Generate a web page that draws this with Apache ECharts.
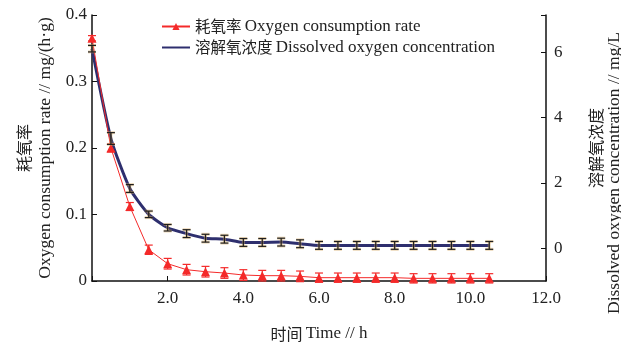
<!DOCTYPE html>
<html>
<head>
<meta charset="utf-8">
<script src="https://cdn.jsdelivr.net/npm/echarts@6/dist/echarts.min.js"></script>
<style>
html, body { margin: 0; padding: 0; background: #fff; }
#main { width: 621px; height: 346px; }
</style>
</head>
<body>
<div id="main"></div>
<script>
// time points (h)
var times = [0, 0.5, 1, 1.5, 2, 2.5, 3, 3.5, 4, 4.5, 5, 5.5, 6, 6.5, 7, 7.5, 8, 8.5, 9, 9.5, 10, 10.5];
// 耗氧率 mg/(h·g)
var rate = [0.365, 0.200, 0.112, 0.047, 0.026, 0.017, 0.014, 0.012, 0.009, 0.008, 0.008, 0.007,
            0.005, 0.005, 0.005, 0.005, 0.005, 0.004, 0.004, 0.004, 0.004, 0.004];
var rateErr = [0.004, 0.006, 0.006, 0.007, 0.008, 0.008, 0.008, 0.008, 0.008, 0.008, 0.008, 0.008,
               0.007, 0.007, 0.007, 0.007, 0.007, 0.007, 0.007, 0.007, 0.007, 0.007];
// 溶解氧浓度 mg/L
var oxygen = [6.11, 3.36, 1.83, 1.04, 0.63, 0.45, 0.31, 0.28, 0.18, 0.18, 0.19, 0.14,
              0.09, 0.09, 0.09, 0.09, 0.09, 0.09, 0.09, 0.09, 0.09, 0.09];
var oxygenErr = [0.10, 0.18, 0.12, 0.10, 0.10, 0.12, 0.12, 0.12, 0.12, 0.12, 0.12, 0.12,
                 0.12, 0.12, 0.12, 0.12, 0.12, 0.12, 0.12, 0.12, 0.12, 0.12];
var rightLabels = [0, 2, 4, 6];

var serif = '"Liberation Serif", "DejaVu Serif", serif';
var cjk = '"Noto Sans CJK SC", sans-serif';

function pairs(ys) {
    return times.map(function (t, i) { return [t, ys[i]]; });
}
function errData(ys, es) {
    return times.map(function (t, i) { return [t, ys[i] - es[i], ys[i] + es[i]]; });
}
function errItem(color, under) {
    return function (params, api) {
        var lo = api.coord([api.value(0), api.value(1)]);
        var hi = api.coord([api.value(0), api.value(2)]);
        var w = 4;
        var kids = [];
        var st = { stroke: color, lineWidth: 1.2 };
        if (under) {
            var u = { stroke: under, lineWidth: 3 };
            kids.push({ type: 'line', shape: { x1: lo[0], y1: lo[1], x2: hi[0], y2: hi[1] }, style: u });
            kids.push({ type: 'line', shape: { x1: lo[0] - w, y1: lo[1], x2: lo[0] + w, y2: lo[1] }, style: u });
            kids.push({ type: 'line', shape: { x1: hi[0] - w, y1: hi[1], x2: hi[0] + w, y2: hi[1] }, style: u });
        }
        kids.push({ type: 'line', shape: { x1: lo[0], y1: lo[1], x2: hi[0], y2: hi[1] }, style: st });
        kids.push({ type: 'line', shape: { x1: lo[0] - w, y1: lo[1], x2: lo[0] + w, y2: lo[1] }, style: st });
        kids.push({ type: 'line', shape: { x1: hi[0] - w, y1: hi[1], x2: hi[0] + w, y2: hi[1] }, style: st });
        return { type: 'group', children: kids };
    };
}

var chart = echarts.init(document.getElementById('main'));
var option = {
    animation: false,
    grid: { left: 92, right: 75, top: 15, bottom: 65, containLabel: false, outerBoundsMode: 'none' },
    legend: {
        orient: 'vertical',
        left: 156,
        top: 13,
        itemWidth: 28,
        itemHeight: 9,
        itemGap: 4,
        data: [
            { name: '耗氧率 Oxygen consumption rate' },
            { name: '溶解氧浓度 Dissolved oxygen concentration', itemStyle: { opacity: 0 } }
        ],
        formatter: function (name) {
            var k = name.indexOf(' ');
            return '{cn|' + name.slice(0, k) + '} {en|' + name.slice(k + 1) + '}';
        },
        textStyle: {
            rich: {
                cn: { fontFamily: cjk, fontSize: 15.5, color: '#222' },
                en: { fontFamily: serif, fontSize: 17, color: '#222' }
            }
        }
    },
    xAxis: {
        type: 'value',
        min: 0,
        max: 12,
        interval: 2,
        name: '{cn|时间} {en|Time // h}',
        nameLocation: 'middle',
        nameGap: 44,
        nameTextStyle: { rich: { cn: { fontFamily: cjk, fontSize: 16, color: '#222' }, en: { fontFamily: serif, fontSize: 17, color: '#222' } } },
        splitLine: { show: false },
        axisLine: { lineStyle: { color: '#111', width: 1.5 } },
        axisTick: { inside: true, length: 5, lineStyle: { color: '#111' } },
        axisLabel: {
            margin: 9,
            fontFamily: serif,
            fontSize: 17,
            color: '#222',
            formatter: function (v) { return v === 0 ? '' : v.toFixed(1); }
        }
    },
    yAxis: [{
        type: 'value',
        min: 0,
        max: 0.4,
        interval: 0.1,
        name: '{cn|耗氧率}\n{en|Oxygen consumption rate // mg/(h·g)}',
        nameLocation: 'middle',
        nameRotate: 90,
        nameGap: 34,
        nameTextStyle: { rich: { cn: { fontFamily: cjk, fontSize: 16, color: '#222', lineHeight: 22 }, en: { fontFamily: serif, fontSize: 17.5, color: '#222', lineHeight: 22 } } },
        splitLine: { show: false },
        axisLine: { show: true, lineStyle: { color: '#111', width: 1.5 } },
        axisTick: { show: true, inside: true, length: 5, lineStyle: { color: '#111' } },
        axisLabel: { margin: 5, fontFamily: serif, fontSize: 17, color: '#222' }
    }, {
        type: 'value',
        min: -1,
        max: 7.14,
        position: 'right',
        name: '{cn|溶解氧浓度}\n{en|Dissolved oxygen concentration // mg/L}',
        nameLocation: 'middle',
        nameRotate: 90,
        nameGap: 40,
        nameTextStyle: { rich: { cn: { fontFamily: cjk, fontSize: 16, color: '#222', lineHeight: 19 }, en: { fontFamily: serif, fontSize: 17.5, color: '#222', lineHeight: 19, padding: [0, 50, 0, 0] } } },
        splitLine: { show: false },
        axisLine: { show: true, lineStyle: { color: '#111', width: 1.5 } },
        axisTick: { show: true, inside: true, length: 5, customValues: rightLabels.concat([7.14]), lineStyle: { color: '#111' } },
        axisLabel: { margin: 8, fontFamily: serif, fontSize: 17, color: '#222', customValues: rightLabels }
    }],
    series: [{
        name: '耗氧率 Oxygen consumption rate',
        type: 'line',
        yAxisIndex: 0,
        data: pairs(rate),
        symbol: 'triangle',
        symbolSize: 9,
        itemStyle: { color: '#f42a2a' },
        lineStyle: { color: '#f42a2a', width: 1 },
        z: 3
    }, {
        name: '溶解氧浓度 Dissolved oxygen concentration',
        type: 'line',
        yAxisIndex: 1,
        data: pairs(oxygen),
        symbol: 'circle',
        showSymbol: false,
        smooth: 0.2,
        itemStyle: { color: '#2e2f6e' },
        lineStyle: { color: '#2e2f6e', width: 3 },
        z: 2
    }, {
        type: 'custom',
        yAxisIndex: 0,
        data: errData(rate, rateErr),
        renderItem: errItem('#f42a2a'),
        encode: { x: 0, y: [1, 2] },
        z: 4,
        silent: true
    }, {
        type: 'custom',
        yAxisIndex: 1,
        data: errData(oxygen, oxygenErr),
        renderItem: errItem('#1e1e1e', 'rgba(215,170,100,0.45)'),
        encode: { x: 0, y: [1, 2] },
        z: 4,
        silent: true
    }]
};
chart.setOption(option);
</script>
</body>
</html>
